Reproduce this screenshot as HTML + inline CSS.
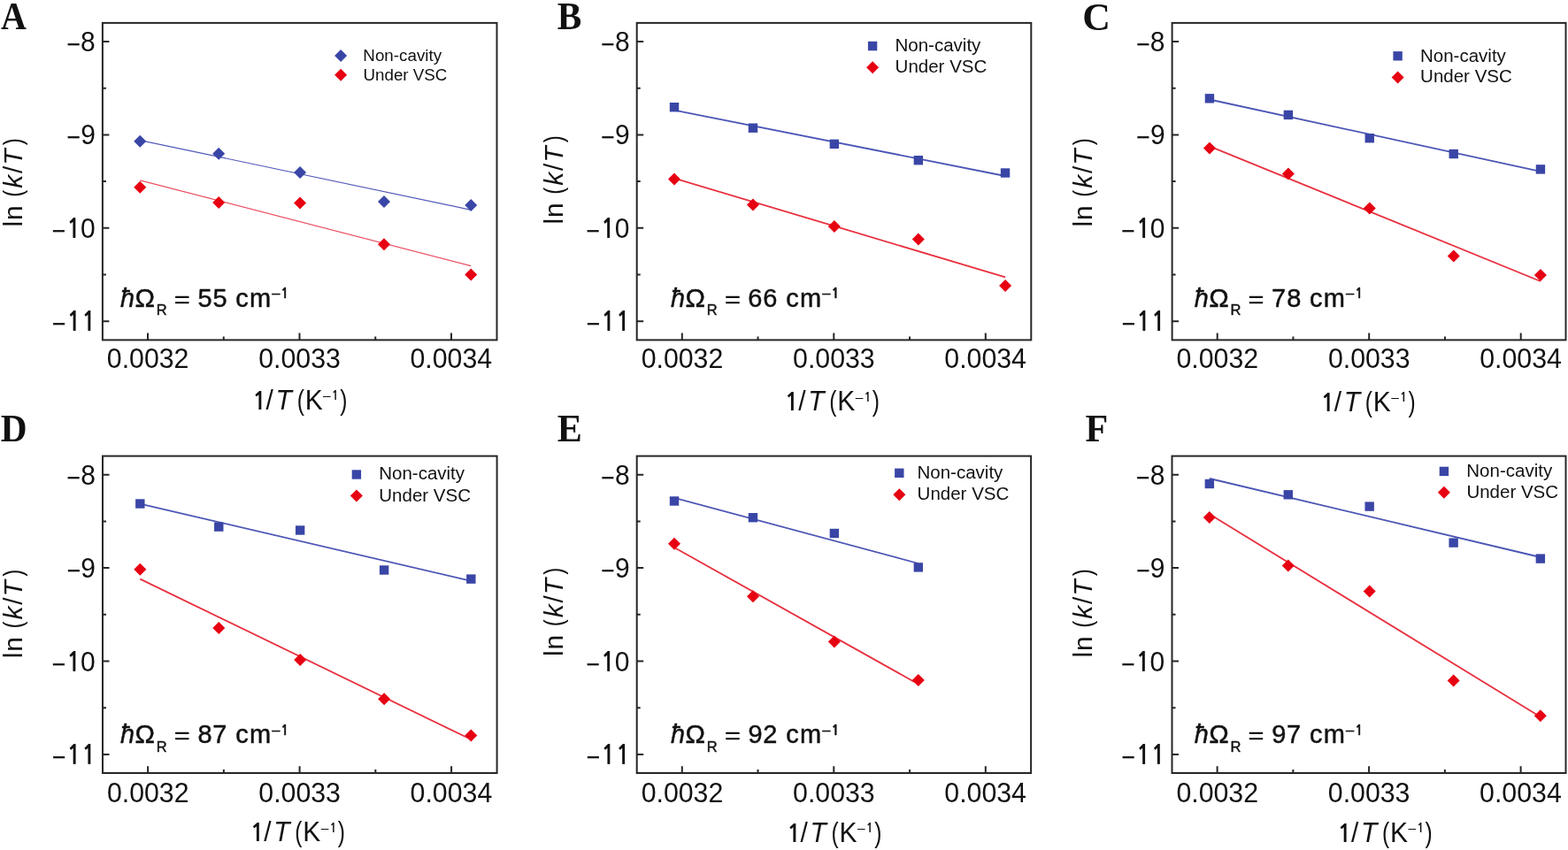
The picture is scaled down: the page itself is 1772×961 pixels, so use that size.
<!DOCTYPE html>
<html><head><meta charset="utf-8"><title>ln(k/T) vs 1/T</title>
<style>html,body{margin:0;padding:0;background:#fff;}body{width:1772px;height:961px;overflow:hidden;}svg{display:block;}</style>
</head><body>
<svg width="1772" height="961" viewBox="0 0 1772 961">
<rect width="1772" height="961" fill="#fff"/>
<g stroke="#262626" stroke-width="2" fill="none">
<rect x="115.9" y="25.9" width="445.6" height="358.5"/>
<path d="M115.9 47h7.5M115.9 152.4h7.5M115.9 257.8h7.5M115.9 363.2h7.5M115.9 99.7h4M115.9 205.1h4M115.9 310.5h4M167 384.4v-7.8M338.5 384.4v-7.8M510 384.4v-7.8M252.75 384.4v-4M424.25 384.4v-4"/>
</g>
<g fill="#111">
<text transform="translate(75.2 60.77) scale(0.9 1.06)" font-family="'Liberation Sans', Arial, Helvetica, sans-serif" font-size="30">−</text><text transform="translate(0 57.7) scale(1 1.06)" font-family="'Liberation Sans', Arial, Helvetica, sans-serif" font-size="30"><tspan x="91.12" y="0">8</tspan></text>
<text transform="translate(75.32 166.17) scale(0.9 1.06)" font-family="'Liberation Sans', Arial, Helvetica, sans-serif" font-size="30">−</text><text transform="translate(0 163.1) scale(1 1.06)" font-family="'Liberation Sans', Arial, Helvetica, sans-serif" font-size="30"><tspan x="91.24" y="0">9</tspan></text>
<text transform="translate(58.39 271.57) scale(0.9 1.06)" font-family="'Liberation Sans', Arial, Helvetica, sans-serif" font-size="30">−</text><text transform="translate(0 268.5) scale(1 1.06)" font-family="'Liberation Sans', Arial, Helvetica, sans-serif" font-size="30"><tspan x="74.98" y="0" font-family="NanumGothic, 'Liberation Sans', sans-serif" font-weight="bold" font-size="27.27">1</tspan><tspan x="90.99" y="0">0</tspan></text>
<text transform="translate(58.68 376.97) scale(0.9 1.06)" font-family="'Liberation Sans', Arial, Helvetica, sans-serif" font-size="30">−</text><text transform="translate(0 373.9) scale(1 1.06)" font-family="'Liberation Sans', Arial, Helvetica, sans-serif" font-size="30"><tspan x="75.27" y="0" font-family="NanumGothic, 'Liberation Sans', sans-serif" font-weight="bold" font-size="27.27">1</tspan><tspan x="91.96" y="0" font-family="NanumGothic, 'Liberation Sans', sans-serif" font-weight="bold" font-size="27.27">1</tspan></text>
<text transform="translate(120.83 415.7) scale(1 1.05)" font-family="'Liberation Sans', Arial, Helvetica, sans-serif" font-size="30.3">0.0032</text>
<text transform="translate(292.24 415.7) scale(1 1.05)" font-family="'Liberation Sans', Arial, Helvetica, sans-serif" font-size="30.3">0.0033</text>
<text transform="translate(463.51 415.7) scale(1 1.05)" font-family="'Liberation Sans', Arial, Helvetica, sans-serif" font-size="30.3">0.0034</text>
<text transform="translate(1.01 33.3) scale(0.93 1.04)" font-family="'Liberation Serif', 'Times New Roman', serif" font-size="43" font-weight="bold">A</text>
<g transform="translate(24.6 254.6) rotate(-90)"><text x="-2.02" y="0" font-family="'Liberation Sans', Arial, Helvetica, sans-serif" font-size="30">l</text><text x="5.61" y="0" font-family="'Liberation Sans', Arial, Helvetica, sans-serif" font-size="30">n</text><text transform="translate(31.81 0) scale(0.8 1)" font-family="'Liberation Sans', Arial, Helvetica, sans-serif" font-size="30">(</text><text x="41.9" y="0" font-family="'Liberation Sans', Arial, Helvetica, sans-serif" font-size="30" font-style="italic">k</text><text x="58.5" y="0" font-family="'Liberation Sans', Arial, Helvetica, sans-serif" font-size="30">/</text><text x="67.8" y="0" font-family="'Liberation Sans', Arial, Helvetica, sans-serif" font-size="30" font-style="italic">T</text><text transform="translate(90.46 0) scale(0.8 1)" font-family="'Liberation Sans', Arial, Helvetica, sans-serif" font-size="30">)</text></g>
<text transform="translate(284.99 462.6) scale(1 1.05)" font-family="NanumGothic, 'Liberation Sans', sans-serif" font-size="27.3" font-weight="bold">1</text>
<text transform="translate(300.6 462.6) scale(1 1.05)" font-family="'Liberation Sans', Arial, Helvetica, sans-serif" font-size="30">/</text>
<text transform="translate(311.6 462.6) scale(1 1.05)" font-family="'Liberation Sans', Arial, Helvetica, sans-serif" font-size="30" font-style="italic">T</text>
<text transform="translate(335.67 462.6) scale(0.82 1.05)" font-family="'Liberation Sans', Arial, Helvetica, sans-serif" font-size="30">(</text>
<text transform="translate(344.64 462.6) scale(1 1.05)" font-family="'Liberation Sans', Arial, Helvetica, sans-serif" font-size="30">K</text>
<text x="365.1" y="452.3" font-family="'Liberation Sans', Arial, Helvetica, sans-serif" font-size="15.5">–</text>
<text x="374.58" y="452.3" font-family="NanumGothic, 'Liberation Sans', sans-serif" font-size="14.2" font-weight="bold">1</text>
<text transform="translate(384.26 462.6) scale(0.82 1.05)" font-family="'Liberation Sans', Arial, Helvetica, sans-serif" font-size="30">)</text>
<text x="410.36" y="69" font-family="'Liberation Sans', Arial, Helvetica, sans-serif" font-size="18.8">Non-cavity</text>
<text x="410.45" y="90.6" font-family="'Liberation Sans', Arial, Helvetica, sans-serif" font-size="18.8">Under VSC</text>
<g stroke="#111" stroke-width="0.45" stroke-linejoin="round">
<text x="136.02" y="346.5" font-family="'Liberation Sans', Arial, Helvetica, sans-serif" font-size="29" font-style="italic">ħ</text>
<text transform="translate(152.42 346.5) scale(1.04 1)" font-family="'Liberation Sans', Arial, Helvetica, sans-serif" font-size="29">Ω</text>
<text x="176.65" y="355.9" font-family="'Liberation Sans', Arial, Helvetica, sans-serif" font-size="16.5">R</text>
<text transform="translate(196.8 346.8) scale(1.06 0.86)" font-family="'Liberation Sans', Arial, Helvetica, sans-serif" font-size="29">=</text>
<text x="223.54" y="346.5" font-family="'Liberation Sans', Arial, Helvetica, sans-serif" font-size="29">5</text>
<text x="240.54" y="346.5" font-family="'Liberation Sans', Arial, Helvetica, sans-serif" font-size="29">5</text>
<text x="266.27" y="346.5" font-family="'Liberation Sans', Arial, Helvetica, sans-serif" font-size="29">c</text>
<text x="281.97" y="346.5" font-family="'Liberation Sans', Arial, Helvetica, sans-serif" font-size="29">m</text>
<text x="307.2" y="336.9" font-family="'Liberation Sans', Arial, Helvetica, sans-serif" font-size="16.5">–</text>
<text x="317.37" y="336.9" font-family="NanumGothic, 'Liberation Sans', sans-serif" font-size="15" font-weight="bold">1</text>
</g>
</g>
<line x1="158.23" y1="158.6" x2="532.24" y2="237.3" stroke="#5058b8" stroke-width="1.2"/>
<line x1="158.23" y1="203.8" x2="532.24" y2="300.7" stroke="#ea5062" stroke-width="1.2"/>
<path d="M158.23 152.7L165.23 159.7L158.23 166.7L151.23 159.7Z" fill="#3a46a6"/>
<path d="M158.23 204.8L165.23 211.8L158.23 218.8L151.23 211.8Z" fill="#e60012"/>
<path d="M247.18 166.7L254.18 173.7L247.18 180.7L240.18 173.7Z" fill="#3a46a6"/>
<path d="M247.18 222.1L254.18 229.1L247.18 236.1L240.18 229.1Z" fill="#e60012"/>
<path d="M339.07 187.9L346.07 194.9L339.07 201.9L332.07 194.9Z" fill="#3a46a6"/>
<path d="M339.07 222.6L346.07 229.6L339.07 236.6L332.07 229.6Z" fill="#e60012"/>
<path d="M434.03 221L441.03 228L434.03 235L427.03 228Z" fill="#3a46a6"/>
<path d="M434.03 269.2L441.03 276.2L434.03 283.2L427.03 276.2Z" fill="#e60012"/>
<path d="M532.24 225L539.24 232L532.24 239L525.24 232Z" fill="#3a46a6"/>
<path d="M532.24 303.4L539.24 310.4L532.24 317.4L525.24 310.4Z" fill="#e60012"/>
<path d="M385.1 56.1L392.1 63.1L385.1 70.1L378.1 63.1Z" fill="#3a46a6"/>
<path d="M385.1 77.8L392.1 84.8L385.1 91.8L378.1 84.8Z" fill="#e60012"/>
<g stroke="#262626" stroke-width="2" fill="none">
<rect x="719.7" y="25.9" width="445.6" height="358.5"/>
<path d="M719.7 47h7.5M719.7 152.4h7.5M719.7 257.8h7.5M719.7 363.2h7.5M719.7 99.7h4M719.7 205.1h4M719.7 310.5h4M770.8 384.4v-7.8M942.3 384.4v-7.8M1113.8 384.4v-7.8M856.55 384.4v-4M1028.05 384.4v-4"/>
</g>
<g fill="#111">
<text transform="translate(679 60.77) scale(0.9 1.06)" font-family="'Liberation Sans', Arial, Helvetica, sans-serif" font-size="30">−</text><text transform="translate(0 57.7) scale(1 1.06)" font-family="'Liberation Sans', Arial, Helvetica, sans-serif" font-size="30"><tspan x="694.92" y="0">8</tspan></text>
<text transform="translate(679.12 166.17) scale(0.9 1.06)" font-family="'Liberation Sans', Arial, Helvetica, sans-serif" font-size="30">−</text><text transform="translate(0 163.1) scale(1 1.06)" font-family="'Liberation Sans', Arial, Helvetica, sans-serif" font-size="30"><tspan x="695.04" y="0">9</tspan></text>
<text transform="translate(662.19 271.57) scale(0.9 1.06)" font-family="'Liberation Sans', Arial, Helvetica, sans-serif" font-size="30">−</text><text transform="translate(0 268.5) scale(1 1.06)" font-family="'Liberation Sans', Arial, Helvetica, sans-serif" font-size="30"><tspan x="678.78" y="0" font-family="NanumGothic, 'Liberation Sans', sans-serif" font-weight="bold" font-size="27.27">1</tspan><tspan x="694.79" y="0">0</tspan></text>
<text transform="translate(662.48 376.97) scale(0.9 1.06)" font-family="'Liberation Sans', Arial, Helvetica, sans-serif" font-size="30">−</text><text transform="translate(0 373.9) scale(1 1.06)" font-family="'Liberation Sans', Arial, Helvetica, sans-serif" font-size="30"><tspan x="679.07" y="0" font-family="NanumGothic, 'Liberation Sans', sans-serif" font-weight="bold" font-size="27.27">1</tspan><tspan x="695.76" y="0" font-family="NanumGothic, 'Liberation Sans', sans-serif" font-weight="bold" font-size="27.27">1</tspan></text>
<text transform="translate(724.63 415.7) scale(1 1.05)" font-family="'Liberation Sans', Arial, Helvetica, sans-serif" font-size="30.3">0.0032</text>
<text transform="translate(896.04 415.7) scale(1 1.05)" font-family="'Liberation Sans', Arial, Helvetica, sans-serif" font-size="30.3">0.0033</text>
<text transform="translate(1067.31 415.7) scale(1 1.05)" font-family="'Liberation Sans', Arial, Helvetica, sans-serif" font-size="30.3">0.0034</text>
<text transform="translate(629.81 33.3) scale(0.96 1.04)" font-family="'Liberation Serif', 'Times New Roman', serif" font-size="43" font-weight="bold">B</text>
<g transform="translate(635.6 251.6) rotate(-90)"><text x="-2.02" y="0" font-family="'Liberation Sans', Arial, Helvetica, sans-serif" font-size="30">l</text><text x="5.61" y="0" font-family="'Liberation Sans', Arial, Helvetica, sans-serif" font-size="30">n</text><text transform="translate(31.81 0) scale(0.8 1)" font-family="'Liberation Sans', Arial, Helvetica, sans-serif" font-size="30">(</text><text x="41.9" y="0" font-family="'Liberation Sans', Arial, Helvetica, sans-serif" font-size="30" font-style="italic">k</text><text x="58.5" y="0" font-family="'Liberation Sans', Arial, Helvetica, sans-serif" font-size="30">/</text><text x="67.8" y="0" font-family="'Liberation Sans', Arial, Helvetica, sans-serif" font-size="30" font-style="italic">T</text><text transform="translate(90.46 0) scale(0.8 1)" font-family="'Liberation Sans', Arial, Helvetica, sans-serif" font-size="30">)</text></g>
<text transform="translate(886.59 464.3) scale(1 1.05)" font-family="NanumGothic, 'Liberation Sans', sans-serif" font-size="27.3" font-weight="bold">1</text>
<text transform="translate(902.2 464.3) scale(1 1.05)" font-family="'Liberation Sans', Arial, Helvetica, sans-serif" font-size="30">/</text>
<text transform="translate(913.2 464.3) scale(1 1.05)" font-family="'Liberation Sans', Arial, Helvetica, sans-serif" font-size="30" font-style="italic">T</text>
<text transform="translate(937.27 464.3) scale(0.82 1.05)" font-family="'Liberation Sans', Arial, Helvetica, sans-serif" font-size="30">(</text>
<text transform="translate(946.24 464.3) scale(1 1.05)" font-family="'Liberation Sans', Arial, Helvetica, sans-serif" font-size="30">K</text>
<text x="966.7" y="454" font-family="'Liberation Sans', Arial, Helvetica, sans-serif" font-size="15.5">–</text>
<text x="976.18" y="454" font-family="NanumGothic, 'Liberation Sans', sans-serif" font-size="14.2" font-weight="bold">1</text>
<text transform="translate(985.86 464.3) scale(0.82 1.05)" font-family="'Liberation Sans', Arial, Helvetica, sans-serif" font-size="30">)</text>
<text x="1011.52" y="57.6" font-family="'Liberation Sans', Arial, Helvetica, sans-serif" font-size="20.5">Non-cavity</text>
<text x="1011.62" y="81.9" font-family="'Liberation Sans', Arial, Helvetica, sans-serif" font-size="20.5">Under VSC</text>
<g stroke="#111" stroke-width="0.45" stroke-linejoin="round">
<text x="758.12" y="346.5" font-family="'Liberation Sans', Arial, Helvetica, sans-serif" font-size="29" font-style="italic">ħ</text>
<text transform="translate(774.52 346.5) scale(1.04 1)" font-family="'Liberation Sans', Arial, Helvetica, sans-serif" font-size="29">Ω</text>
<text x="798.75" y="355.9" font-family="'Liberation Sans', Arial, Helvetica, sans-serif" font-size="16.5">R</text>
<text transform="translate(818.9 346.8) scale(1.06 0.86)" font-family="'Liberation Sans', Arial, Helvetica, sans-serif" font-size="29">=</text>
<text x="845.33" y="346.5" font-family="'Liberation Sans', Arial, Helvetica, sans-serif" font-size="29">6</text>
<text x="862.33" y="346.5" font-family="'Liberation Sans', Arial, Helvetica, sans-serif" font-size="29">6</text>
<text x="888.37" y="346.5" font-family="'Liberation Sans', Arial, Helvetica, sans-serif" font-size="29">c</text>
<text x="904.07" y="346.5" font-family="'Liberation Sans', Arial, Helvetica, sans-serif" font-size="29">m</text>
<text x="929.3" y="336.9" font-family="'Liberation Sans', Arial, Helvetica, sans-serif" font-size="16.5">–</text>
<text x="939.47" y="336.9" font-family="NanumGothic, 'Liberation Sans', sans-serif" font-size="15" font-weight="bold">1</text>
</g>
</g>
<line x1="762.03" y1="124.6" x2="1136.04" y2="199" stroke="#4b55b5" stroke-width="1.8"/>
<line x1="762.03" y1="201.5" x2="1136.04" y2="313.4" stroke="#e8303f" stroke-width="1.8"/>
<rect x="756.83" y="116" width="10.4" height="10.4" fill="#3a46a6"/>
<path d="M762.03 195.6L769.03 202.6L762.03 209.6L755.03 202.6Z" fill="#e60012"/>
<rect x="845.78" y="139.5" width="10.4" height="10.4" fill="#3a46a6"/>
<path d="M850.98 224.5L857.98 231.5L850.98 238.5L843.98 231.5Z" fill="#e60012"/>
<rect x="937.67" y="157.6" width="10.4" height="10.4" fill="#3a46a6"/>
<path d="M942.87 249L949.87 256L942.87 263L935.87 256Z" fill="#e60012"/>
<rect x="1032.63" y="176" width="10.4" height="10.4" fill="#3a46a6"/>
<path d="M1037.83 263.5L1044.83 270.5L1037.83 277.5L1030.83 270.5Z" fill="#e60012"/>
<rect x="1130.84" y="190.3" width="10.4" height="10.4" fill="#3a46a6"/>
<path d="M1136.04 316L1143.04 323L1136.04 330L1129.04 323Z" fill="#e60012"/>
<rect x="980.9" y="46.85" width="10.4" height="10.4" fill="#3a46a6"/>
<path d="M986.1 69.3L993.1 76.3L986.1 83.3L979.1 76.3Z" fill="#e60012"/>
<g stroke="#262626" stroke-width="2" fill="none">
<rect x="1324.6" y="25.9" width="444.9" height="358.5"/>
<path d="M1324.6 47h7.5M1324.6 152.4h7.5M1324.6 257.8h7.5M1324.6 363.2h7.5M1324.6 99.7h4M1324.6 205.1h4M1324.6 310.5h4M1375.7 384.4v-7.8M1547.2 384.4v-7.8M1718.7 384.4v-7.8M1461.45 384.4v-4M1632.95 384.4v-4"/>
</g>
<g fill="#111">
<text transform="translate(1283.9 60.77) scale(0.9 1.06)" font-family="'Liberation Sans', Arial, Helvetica, sans-serif" font-size="30">−</text><text transform="translate(0 57.7) scale(1 1.06)" font-family="'Liberation Sans', Arial, Helvetica, sans-serif" font-size="30"><tspan x="1299.82" y="0">8</tspan></text>
<text transform="translate(1284.02 166.17) scale(0.9 1.06)" font-family="'Liberation Sans', Arial, Helvetica, sans-serif" font-size="30">−</text><text transform="translate(0 163.1) scale(1 1.06)" font-family="'Liberation Sans', Arial, Helvetica, sans-serif" font-size="30"><tspan x="1299.94" y="0">9</tspan></text>
<text transform="translate(1267.09 271.57) scale(0.9 1.06)" font-family="'Liberation Sans', Arial, Helvetica, sans-serif" font-size="30">−</text><text transform="translate(0 268.5) scale(1 1.06)" font-family="'Liberation Sans', Arial, Helvetica, sans-serif" font-size="30"><tspan x="1283.68" y="0" font-family="NanumGothic, 'Liberation Sans', sans-serif" font-weight="bold" font-size="27.27">1</tspan><tspan x="1299.69" y="0">0</tspan></text>
<text transform="translate(1267.38 376.97) scale(0.9 1.06)" font-family="'Liberation Sans', Arial, Helvetica, sans-serif" font-size="30">−</text><text transform="translate(0 373.9) scale(1 1.06)" font-family="'Liberation Sans', Arial, Helvetica, sans-serif" font-size="30"><tspan x="1283.97" y="0" font-family="NanumGothic, 'Liberation Sans', sans-serif" font-weight="bold" font-size="27.27">1</tspan><tspan x="1300.66" y="0" font-family="NanumGothic, 'Liberation Sans', sans-serif" font-weight="bold" font-size="27.27">1</tspan></text>
<text transform="translate(1329.53 415.7) scale(1 1.05)" font-family="'Liberation Sans', Arial, Helvetica, sans-serif" font-size="30.3">0.0032</text>
<text transform="translate(1500.94 415.7) scale(1 1.05)" font-family="'Liberation Sans', Arial, Helvetica, sans-serif" font-size="30.3">0.0033</text>
<text transform="translate(1672.21 415.7) scale(1 1.05)" font-family="'Liberation Sans', Arial, Helvetica, sans-serif" font-size="30.3">0.0034</text>
<text transform="translate(1223.36 33.5) scale(1.02 1.04)" font-family="'Liberation Serif', 'Times New Roman', serif" font-size="43" font-weight="bold">C</text>
<g transform="translate(1233.6 254.6) rotate(-90)"><text x="-2.02" y="0" font-family="'Liberation Sans', Arial, Helvetica, sans-serif" font-size="30">l</text><text x="5.61" y="0" font-family="'Liberation Sans', Arial, Helvetica, sans-serif" font-size="30">n</text><text transform="translate(31.81 0) scale(0.8 1)" font-family="'Liberation Sans', Arial, Helvetica, sans-serif" font-size="30">(</text><text x="41.9" y="0" font-family="'Liberation Sans', Arial, Helvetica, sans-serif" font-size="30" font-style="italic">k</text><text x="58.5" y="0" font-family="'Liberation Sans', Arial, Helvetica, sans-serif" font-size="30">/</text><text x="67.8" y="0" font-family="'Liberation Sans', Arial, Helvetica, sans-serif" font-size="30" font-style="italic">T</text><text transform="translate(90.46 0) scale(0.8 1)" font-family="'Liberation Sans', Arial, Helvetica, sans-serif" font-size="30">)</text></g>
<text transform="translate(1492.19 464.5) scale(1 1.05)" font-family="NanumGothic, 'Liberation Sans', sans-serif" font-size="27.3" font-weight="bold">1</text>
<text transform="translate(1507.8 464.5) scale(1 1.05)" font-family="'Liberation Sans', Arial, Helvetica, sans-serif" font-size="30">/</text>
<text transform="translate(1518.8 464.5) scale(1 1.05)" font-family="'Liberation Sans', Arial, Helvetica, sans-serif" font-size="30" font-style="italic">T</text>
<text transform="translate(1542.87 464.5) scale(0.82 1.05)" font-family="'Liberation Sans', Arial, Helvetica, sans-serif" font-size="30">(</text>
<text transform="translate(1551.84 464.5) scale(1 1.05)" font-family="'Liberation Sans', Arial, Helvetica, sans-serif" font-size="30">K</text>
<text x="1572.3" y="454.2" font-family="'Liberation Sans', Arial, Helvetica, sans-serif" font-size="15.5">–</text>
<text x="1581.78" y="454.2" font-family="NanumGothic, 'Liberation Sans', sans-serif" font-size="14.2" font-weight="bold">1</text>
<text transform="translate(1591.46 464.5) scale(0.82 1.05)" font-family="'Liberation Sans', Arial, Helvetica, sans-serif" font-size="30">)</text>
<text x="1605.02" y="69.6" font-family="'Liberation Sans', Arial, Helvetica, sans-serif" font-size="20.5">Non-cavity</text>
<text x="1605.12" y="93.3" font-family="'Liberation Sans', Arial, Helvetica, sans-serif" font-size="20.5">Under VSC</text>
<g stroke="#111" stroke-width="0.45" stroke-linejoin="round">
<text x="1349.82" y="346.5" font-family="'Liberation Sans', Arial, Helvetica, sans-serif" font-size="29" font-style="italic">ħ</text>
<text transform="translate(1366.22 346.5) scale(1.04 1)" font-family="'Liberation Sans', Arial, Helvetica, sans-serif" font-size="29">Ω</text>
<text x="1390.45" y="355.9" font-family="'Liberation Sans', Arial, Helvetica, sans-serif" font-size="16.5">R</text>
<text transform="translate(1410.6 346.8) scale(1.06 0.86)" font-family="'Liberation Sans', Arial, Helvetica, sans-serif" font-size="29">=</text>
<text x="1437.01" y="346.5" font-family="'Liberation Sans', Arial, Helvetica, sans-serif" font-size="29">7</text>
<text x="1454.24" y="346.5" font-family="'Liberation Sans', Arial, Helvetica, sans-serif" font-size="29">8</text>
<text x="1480.07" y="346.5" font-family="'Liberation Sans', Arial, Helvetica, sans-serif" font-size="29">c</text>
<text x="1495.77" y="346.5" font-family="'Liberation Sans', Arial, Helvetica, sans-serif" font-size="29">m</text>
<text x="1521" y="336.9" font-family="'Liberation Sans', Arial, Helvetica, sans-serif" font-size="16.5">–</text>
<text x="1531.17" y="336.9" font-family="NanumGothic, 'Liberation Sans', sans-serif" font-size="15" font-weight="bold">1</text>
</g>
</g>
<line x1="1366.93" y1="112.5" x2="1740.94" y2="193.8" stroke="#4b55b5" stroke-width="1.8"/>
<line x1="1366.93" y1="165.3" x2="1740.94" y2="318" stroke="#e8303f" stroke-width="1.8"/>
<rect x="1361.73" y="106.1" width="10.4" height="10.4" fill="#3a46a6"/>
<path d="M1366.93 160.6L1373.93 167.6L1366.93 174.6L1359.93 167.6Z" fill="#e60012"/>
<rect x="1450.68" y="124.7" width="10.4" height="10.4" fill="#3a46a6"/>
<path d="M1455.88 189.5L1462.88 196.5L1455.88 203.5L1448.88 196.5Z" fill="#e60012"/>
<rect x="1542.57" y="151" width="10.4" height="10.4" fill="#3a46a6"/>
<path d="M1547.77 228.5L1554.77 235.5L1547.77 242.5L1540.77 235.5Z" fill="#e60012"/>
<rect x="1637.53" y="168.8" width="10.4" height="10.4" fill="#3a46a6"/>
<path d="M1642.73 282.5L1649.73 289.5L1642.73 296.5L1635.73 289.5Z" fill="#e60012"/>
<rect x="1735.74" y="186.2" width="10.4" height="10.4" fill="#3a46a6"/>
<path d="M1740.94 304L1747.94 311L1740.94 318L1733.94 311Z" fill="#e60012"/>
<rect x="1574.4" y="58.1" width="10.4" height="10.4" fill="#3a46a6"/>
<path d="M1579.6 80.5L1586.6 87.5L1579.6 94.5L1572.6 87.5Z" fill="#e60012"/>
<g stroke="#262626" stroke-width="2" fill="none">
<rect x="116" y="515.6" width="445.6" height="358.4"/>
<path d="M116 536.7h7.5M116 642.1h7.5M116 747.5h7.5M116 852.9h7.5M116 589.4h4M116 694.8h4M116 800.2h4M167.1 874v-7.8M338.6 874v-7.8M510.1 874v-7.8M252.85 874v-4M424.35 874v-4"/>
</g>
<g fill="#111">
<text transform="translate(75.3 550.97) scale(0.9 1.06)" font-family="'Liberation Sans', Arial, Helvetica, sans-serif" font-size="30">−</text><text transform="translate(0 547.9) scale(1 1.06)" font-family="'Liberation Sans', Arial, Helvetica, sans-serif" font-size="30"><tspan x="91.22" y="0">8</tspan></text>
<text transform="translate(75.42 656.37) scale(0.9 1.06)" font-family="'Liberation Sans', Arial, Helvetica, sans-serif" font-size="30">−</text><text transform="translate(0 653.3) scale(1 1.06)" font-family="'Liberation Sans', Arial, Helvetica, sans-serif" font-size="30"><tspan x="91.34" y="0">9</tspan></text>
<text transform="translate(58.49 761.77) scale(0.9 1.06)" font-family="'Liberation Sans', Arial, Helvetica, sans-serif" font-size="30">−</text><text transform="translate(0 758.7) scale(1 1.06)" font-family="'Liberation Sans', Arial, Helvetica, sans-serif" font-size="30"><tspan x="75.08" y="0" font-family="NanumGothic, 'Liberation Sans', sans-serif" font-weight="bold" font-size="27.27">1</tspan><tspan x="91.09" y="0">0</tspan></text>
<text transform="translate(58.78 867.17) scale(0.9 1.06)" font-family="'Liberation Sans', Arial, Helvetica, sans-serif" font-size="30">−</text><text transform="translate(0 864.1) scale(1 1.06)" font-family="'Liberation Sans', Arial, Helvetica, sans-serif" font-size="30"><tspan x="75.37" y="0" font-family="NanumGothic, 'Liberation Sans', sans-serif" font-weight="bold" font-size="27.27">1</tspan><tspan x="92.06" y="0" font-family="NanumGothic, 'Liberation Sans', sans-serif" font-weight="bold" font-size="27.27">1</tspan></text>
<text transform="translate(120.93 907.2) scale(1 1.05)" font-family="'Liberation Sans', Arial, Helvetica, sans-serif" font-size="30.3">0.0032</text>
<text transform="translate(292.34 907.2) scale(1 1.05)" font-family="'Liberation Sans', Arial, Helvetica, sans-serif" font-size="30.3">0.0033</text>
<text transform="translate(463.61 907.2) scale(1 1.05)" font-family="'Liberation Sans', Arial, Helvetica, sans-serif" font-size="30.3">0.0034</text>
<text transform="translate(0.67 499.2) scale(0.96 1.04)" font-family="'Liberation Serif', 'Times New Roman', serif" font-size="43" font-weight="bold">D</text>
<g transform="translate(24.6 742.3) rotate(-90)"><text x="-2.02" y="0" font-family="'Liberation Sans', Arial, Helvetica, sans-serif" font-size="30">l</text><text x="5.61" y="0" font-family="'Liberation Sans', Arial, Helvetica, sans-serif" font-size="30">n</text><text transform="translate(31.81 0) scale(0.8 1)" font-family="'Liberation Sans', Arial, Helvetica, sans-serif" font-size="30">(</text><text x="41.9" y="0" font-family="'Liberation Sans', Arial, Helvetica, sans-serif" font-size="30" font-style="italic">k</text><text x="58.5" y="0" font-family="'Liberation Sans', Arial, Helvetica, sans-serif" font-size="30">/</text><text x="67.8" y="0" font-family="'Liberation Sans', Arial, Helvetica, sans-serif" font-size="30" font-style="italic">T</text><text transform="translate(90.46 0) scale(0.8 1)" font-family="'Liberation Sans', Arial, Helvetica, sans-serif" font-size="30">)</text></g>
<text transform="translate(282.59 951.3) scale(1 1.05)" font-family="NanumGothic, 'Liberation Sans', sans-serif" font-size="27.3" font-weight="bold">1</text>
<text transform="translate(298.2 951.3) scale(1 1.05)" font-family="'Liberation Sans', Arial, Helvetica, sans-serif" font-size="30">/</text>
<text transform="translate(309.2 951.3) scale(1 1.05)" font-family="'Liberation Sans', Arial, Helvetica, sans-serif" font-size="30" font-style="italic">T</text>
<text transform="translate(333.27 951.3) scale(0.82 1.05)" font-family="'Liberation Sans', Arial, Helvetica, sans-serif" font-size="30">(</text>
<text transform="translate(342.24 951.3) scale(1 1.05)" font-family="'Liberation Sans', Arial, Helvetica, sans-serif" font-size="30">K</text>
<text x="362.7" y="941" font-family="'Liberation Sans', Arial, Helvetica, sans-serif" font-size="15.5">–</text>
<text x="372.18" y="941" font-family="NanumGothic, 'Liberation Sans', sans-serif" font-size="14.2" font-weight="bold">1</text>
<text transform="translate(381.86 951.3) scale(0.82 1.05)" font-family="'Liberation Sans', Arial, Helvetica, sans-serif" font-size="30">)</text>
<text x="428.22" y="542.3" font-family="'Liberation Sans', Arial, Helvetica, sans-serif" font-size="20.5">Non-cavity</text>
<text x="428.32" y="566.5" font-family="'Liberation Sans', Arial, Helvetica, sans-serif" font-size="20.5">Under VSC</text>
<g stroke="#111" stroke-width="0.45" stroke-linejoin="round">
<text x="136.02" y="840.1" font-family="'Liberation Sans', Arial, Helvetica, sans-serif" font-size="29" font-style="italic">ħ</text>
<text transform="translate(152.42 840.1) scale(1.04 1)" font-family="'Liberation Sans', Arial, Helvetica, sans-serif" font-size="29">Ω</text>
<text x="176.65" y="849.5" font-family="'Liberation Sans', Arial, Helvetica, sans-serif" font-size="16.5">R</text>
<text transform="translate(196.8 840.4) scale(1.06 0.86)" font-family="'Liberation Sans', Arial, Helvetica, sans-serif" font-size="29">=</text>
<text x="223.44" y="840.1" font-family="'Liberation Sans', Arial, Helvetica, sans-serif" font-size="29">8</text>
<text x="240.21" y="840.1" font-family="'Liberation Sans', Arial, Helvetica, sans-serif" font-size="29">7</text>
<text x="266.27" y="840.1" font-family="'Liberation Sans', Arial, Helvetica, sans-serif" font-size="29">c</text>
<text x="281.97" y="840.1" font-family="'Liberation Sans', Arial, Helvetica, sans-serif" font-size="29">m</text>
<text x="307.2" y="830.5" font-family="'Liberation Sans', Arial, Helvetica, sans-serif" font-size="16.5">–</text>
<text x="317.37" y="830.5" font-family="NanumGothic, 'Liberation Sans', sans-serif" font-size="15" font-weight="bold">1</text>
</g>
</g>
<line x1="158.33" y1="569.6" x2="532.34" y2="656.8" stroke="#4b55b5" stroke-width="1.8"/>
<line x1="158.33" y1="654.6" x2="532.34" y2="836" stroke="#e8303f" stroke-width="1.8"/>
<rect x="153.13" y="564.3" width="10.4" height="10.4" fill="#3a46a6"/>
<path d="M158.33 636.7L165.33 643.7L158.33 650.7L151.33 643.7Z" fill="#e60012"/>
<rect x="242.08" y="590.4" width="10.4" height="10.4" fill="#3a46a6"/>
<path d="M247.28 703L254.28 710L247.28 717L240.28 710Z" fill="#e60012"/>
<rect x="333.97" y="594.3" width="10.4" height="10.4" fill="#3a46a6"/>
<path d="M339.17 739L346.17 746L339.17 753L332.17 746Z" fill="#e60012"/>
<rect x="428.93" y="639.3" width="10.4" height="10.4" fill="#3a46a6"/>
<path d="M434.13 783.3L441.13 790.3L434.13 797.3L427.13 790.3Z" fill="#e60012"/>
<rect x="527.14" y="649.4" width="10.4" height="10.4" fill="#3a46a6"/>
<path d="M532.34 824.4L539.34 831.4L532.34 838.4L525.34 831.4Z" fill="#e60012"/>
<rect x="397.7" y="531.3" width="10.4" height="10.4" fill="#3a46a6"/>
<path d="M402.9 553.5L409.9 560.5L402.9 567.5L395.9 560.5Z" fill="#e60012"/>
<g stroke="#262626" stroke-width="2" fill="none">
<rect x="719.7" y="515.6" width="445.4" height="358.4"/>
<path d="M719.7 536.7h7.5M719.7 642.1h7.5M719.7 747.5h7.5M719.7 852.9h7.5M719.7 589.4h4M719.7 694.8h4M719.7 800.2h4M770.8 874v-7.8M942.3 874v-7.8M1113.8 874v-7.8M856.55 874v-4M1028.05 874v-4"/>
</g>
<g fill="#111">
<text transform="translate(679 550.97) scale(0.9 1.06)" font-family="'Liberation Sans', Arial, Helvetica, sans-serif" font-size="30">−</text><text transform="translate(0 547.9) scale(1 1.06)" font-family="'Liberation Sans', Arial, Helvetica, sans-serif" font-size="30"><tspan x="694.92" y="0">8</tspan></text>
<text transform="translate(679.12 656.37) scale(0.9 1.06)" font-family="'Liberation Sans', Arial, Helvetica, sans-serif" font-size="30">−</text><text transform="translate(0 653.3) scale(1 1.06)" font-family="'Liberation Sans', Arial, Helvetica, sans-serif" font-size="30"><tspan x="695.04" y="0">9</tspan></text>
<text transform="translate(662.19 761.77) scale(0.9 1.06)" font-family="'Liberation Sans', Arial, Helvetica, sans-serif" font-size="30">−</text><text transform="translate(0 758.7) scale(1 1.06)" font-family="'Liberation Sans', Arial, Helvetica, sans-serif" font-size="30"><tspan x="678.78" y="0" font-family="NanumGothic, 'Liberation Sans', sans-serif" font-weight="bold" font-size="27.27">1</tspan><tspan x="694.79" y="0">0</tspan></text>
<text transform="translate(662.48 867.17) scale(0.9 1.06)" font-family="'Liberation Sans', Arial, Helvetica, sans-serif" font-size="30">−</text><text transform="translate(0 864.1) scale(1 1.06)" font-family="'Liberation Sans', Arial, Helvetica, sans-serif" font-size="30"><tspan x="679.07" y="0" font-family="NanumGothic, 'Liberation Sans', sans-serif" font-weight="bold" font-size="27.27">1</tspan><tspan x="695.76" y="0" font-family="NanumGothic, 'Liberation Sans', sans-serif" font-weight="bold" font-size="27.27">1</tspan></text>
<text transform="translate(724.63 907.2) scale(1 1.05)" font-family="'Liberation Sans', Arial, Helvetica, sans-serif" font-size="30.3">0.0032</text>
<text transform="translate(896.04 907.2) scale(1 1.05)" font-family="'Liberation Sans', Arial, Helvetica, sans-serif" font-size="30.3">0.0033</text>
<text transform="translate(1067.31 907.2) scale(1 1.05)" font-family="'Liberation Sans', Arial, Helvetica, sans-serif" font-size="30.3">0.0034</text>
<text transform="translate(629.78 499.2) scale(0.98 1.04)" font-family="'Liberation Serif', 'Times New Roman', serif" font-size="43" font-weight="bold">E</text>
<g transform="translate(635.6 740.1) rotate(-90)"><text x="-2.02" y="0" font-family="'Liberation Sans', Arial, Helvetica, sans-serif" font-size="30">l</text><text x="5.61" y="0" font-family="'Liberation Sans', Arial, Helvetica, sans-serif" font-size="30">n</text><text transform="translate(31.81 0) scale(0.8 1)" font-family="'Liberation Sans', Arial, Helvetica, sans-serif" font-size="30">(</text><text x="41.9" y="0" font-family="'Liberation Sans', Arial, Helvetica, sans-serif" font-size="30" font-style="italic">k</text><text x="58.5" y="0" font-family="'Liberation Sans', Arial, Helvetica, sans-serif" font-size="30">/</text><text x="67.8" y="0" font-family="'Liberation Sans', Arial, Helvetica, sans-serif" font-size="30" font-style="italic">T</text><text transform="translate(90.46 0) scale(0.8 1)" font-family="'Liberation Sans', Arial, Helvetica, sans-serif" font-size="30">)</text></g>
<text transform="translate(888.89 951.5) scale(1 1.05)" font-family="NanumGothic, 'Liberation Sans', sans-serif" font-size="27.3" font-weight="bold">1</text>
<text transform="translate(904.5 951.5) scale(1 1.05)" font-family="'Liberation Sans', Arial, Helvetica, sans-serif" font-size="30">/</text>
<text transform="translate(915.5 951.5) scale(1 1.05)" font-family="'Liberation Sans', Arial, Helvetica, sans-serif" font-size="30" font-style="italic">T</text>
<text transform="translate(939.57 951.5) scale(0.82 1.05)" font-family="'Liberation Sans', Arial, Helvetica, sans-serif" font-size="30">(</text>
<text transform="translate(948.54 951.5) scale(1 1.05)" font-family="'Liberation Sans', Arial, Helvetica, sans-serif" font-size="30">K</text>
<text x="969" y="941.2" font-family="'Liberation Sans', Arial, Helvetica, sans-serif" font-size="15.5">–</text>
<text x="978.48" y="941.2" font-family="NanumGothic, 'Liberation Sans', sans-serif" font-size="14.2" font-weight="bold">1</text>
<text transform="translate(988.16 951.5) scale(0.82 1.05)" font-family="'Liberation Sans', Arial, Helvetica, sans-serif" font-size="30">)</text>
<text x="1036.52" y="540.6" font-family="'Liberation Sans', Arial, Helvetica, sans-serif" font-size="20.5">Non-cavity</text>
<text x="1036.62" y="564.9" font-family="'Liberation Sans', Arial, Helvetica, sans-serif" font-size="20.5">Under VSC</text>
<g stroke="#111" stroke-width="0.45" stroke-linejoin="round">
<text x="758.12" y="840.1" font-family="'Liberation Sans', Arial, Helvetica, sans-serif" font-size="29" font-style="italic">ħ</text>
<text transform="translate(774.52 840.1) scale(1.04 1)" font-family="'Liberation Sans', Arial, Helvetica, sans-serif" font-size="29">Ω</text>
<text x="798.75" y="849.5" font-family="'Liberation Sans', Arial, Helvetica, sans-serif" font-size="16.5">R</text>
<text transform="translate(818.9 840.4) scale(1.06 0.86)" font-family="'Liberation Sans', Arial, Helvetica, sans-serif" font-size="29">=</text>
<text x="845.44" y="840.1" font-family="'Liberation Sans', Arial, Helvetica, sans-serif" font-size="29">9</text>
<text x="862.34" y="840.1" font-family="'Liberation Sans', Arial, Helvetica, sans-serif" font-size="29">2</text>
<text x="888.37" y="840.1" font-family="'Liberation Sans', Arial, Helvetica, sans-serif" font-size="29">c</text>
<text x="904.07" y="840.1" font-family="'Liberation Sans', Arial, Helvetica, sans-serif" font-size="29">m</text>
<text x="929.3" y="830.5" font-family="'Liberation Sans', Arial, Helvetica, sans-serif" font-size="16.5">–</text>
<text x="939.47" y="830.5" font-family="NanumGothic, 'Liberation Sans', sans-serif" font-size="15" font-weight="bold">1</text>
</g>
</g>
<line x1="762.03" y1="562.8" x2="1037.83" y2="637" stroke="#4b55b5" stroke-width="1.8"/>
<line x1="762.03" y1="619" x2="1037.83" y2="773.5" stroke="#e8303f" stroke-width="1.8"/>
<rect x="756.83" y="561.3" width="10.4" height="10.4" fill="#3a46a6"/>
<path d="M762.03 607.7L769.03 614.7L762.03 621.7L755.03 614.7Z" fill="#e60012"/>
<rect x="845.78" y="580" width="10.4" height="10.4" fill="#3a46a6"/>
<path d="M850.98 667.3L857.98 674.3L850.98 681.3L843.98 674.3Z" fill="#e60012"/>
<rect x="937.67" y="597.8" width="10.4" height="10.4" fill="#3a46a6"/>
<path d="M942.87 718.4L949.87 725.4L942.87 732.4L935.87 725.4Z" fill="#e60012"/>
<rect x="1032.63" y="636.2" width="10.4" height="10.4" fill="#3a46a6"/>
<path d="M1037.83 762.1L1044.83 769.1L1037.83 776.1L1030.83 769.1Z" fill="#e60012"/>
<rect x="1011.1" y="529.6" width="10.4" height="10.4" fill="#3a46a6"/>
<path d="M1016.3 552.3L1023.3 559.3L1016.3 566.3L1009.3 559.3Z" fill="#e60012"/>
<g stroke="#262626" stroke-width="2" fill="none">
<rect x="1324.5" y="515.6" width="445" height="358.4"/>
<path d="M1324.5 536.7h7.5M1324.5 642.1h7.5M1324.5 747.5h7.5M1324.5 852.9h7.5M1324.5 589.4h4M1324.5 694.8h4M1324.5 800.2h4M1375.6 874v-7.8M1547.1 874v-7.8M1718.6 874v-7.8M1461.35 874v-4M1632.85 874v-4"/>
</g>
<g fill="#111">
<text transform="translate(1283.8 550.97) scale(0.9 1.06)" font-family="'Liberation Sans', Arial, Helvetica, sans-serif" font-size="30">−</text><text transform="translate(0 547.9) scale(1 1.06)" font-family="'Liberation Sans', Arial, Helvetica, sans-serif" font-size="30"><tspan x="1299.72" y="0">8</tspan></text>
<text transform="translate(1283.92 656.37) scale(0.9 1.06)" font-family="'Liberation Sans', Arial, Helvetica, sans-serif" font-size="30">−</text><text transform="translate(0 653.3) scale(1 1.06)" font-family="'Liberation Sans', Arial, Helvetica, sans-serif" font-size="30"><tspan x="1299.84" y="0">9</tspan></text>
<text transform="translate(1266.99 761.77) scale(0.9 1.06)" font-family="'Liberation Sans', Arial, Helvetica, sans-serif" font-size="30">−</text><text transform="translate(0 758.7) scale(1 1.06)" font-family="'Liberation Sans', Arial, Helvetica, sans-serif" font-size="30"><tspan x="1283.58" y="0" font-family="NanumGothic, 'Liberation Sans', sans-serif" font-weight="bold" font-size="27.27">1</tspan><tspan x="1299.59" y="0">0</tspan></text>
<text transform="translate(1267.28 867.17) scale(0.9 1.06)" font-family="'Liberation Sans', Arial, Helvetica, sans-serif" font-size="30">−</text><text transform="translate(0 864.1) scale(1 1.06)" font-family="'Liberation Sans', Arial, Helvetica, sans-serif" font-size="30"><tspan x="1283.87" y="0" font-family="NanumGothic, 'Liberation Sans', sans-serif" font-weight="bold" font-size="27.27">1</tspan><tspan x="1300.56" y="0" font-family="NanumGothic, 'Liberation Sans', sans-serif" font-weight="bold" font-size="27.27">1</tspan></text>
<text transform="translate(1329.43 907.2) scale(1 1.05)" font-family="'Liberation Sans', Arial, Helvetica, sans-serif" font-size="30.3">0.0032</text>
<text transform="translate(1500.84 907.2) scale(1 1.05)" font-family="'Liberation Sans', Arial, Helvetica, sans-serif" font-size="30.3">0.0033</text>
<text transform="translate(1672.11 907.2) scale(1 1.05)" font-family="'Liberation Sans', Arial, Helvetica, sans-serif" font-size="30.3">0.0034</text>
<text transform="translate(1226.48 499.2) scale(0.98 1.04)" font-family="'Liberation Serif', 'Times New Roman', serif" font-size="43" font-weight="bold">F</text>
<g transform="translate(1233.6 741.6) rotate(-90)"><text x="-2.02" y="0" font-family="'Liberation Sans', Arial, Helvetica, sans-serif" font-size="30">l</text><text x="5.61" y="0" font-family="'Liberation Sans', Arial, Helvetica, sans-serif" font-size="30">n</text><text transform="translate(31.81 0) scale(0.8 1)" font-family="'Liberation Sans', Arial, Helvetica, sans-serif" font-size="30">(</text><text x="41.9" y="0" font-family="'Liberation Sans', Arial, Helvetica, sans-serif" font-size="30" font-style="italic">k</text><text x="58.5" y="0" font-family="'Liberation Sans', Arial, Helvetica, sans-serif" font-size="30">/</text><text x="67.8" y="0" font-family="'Liberation Sans', Arial, Helvetica, sans-serif" font-size="30" font-style="italic">T</text><text transform="translate(90.46 0) scale(0.8 1)" font-family="'Liberation Sans', Arial, Helvetica, sans-serif" font-size="30">)</text></g>
<text transform="translate(1511.29 951.5) scale(1 1.05)" font-family="NanumGothic, 'Liberation Sans', sans-serif" font-size="27.3" font-weight="bold">1</text>
<text transform="translate(1526.9 951.5) scale(1 1.05)" font-family="'Liberation Sans', Arial, Helvetica, sans-serif" font-size="30">/</text>
<text transform="translate(1537.9 951.5) scale(1 1.05)" font-family="'Liberation Sans', Arial, Helvetica, sans-serif" font-size="30" font-style="italic">T</text>
<text transform="translate(1561.97 951.5) scale(0.82 1.05)" font-family="'Liberation Sans', Arial, Helvetica, sans-serif" font-size="30">(</text>
<text transform="translate(1570.94 951.5) scale(1 1.05)" font-family="'Liberation Sans', Arial, Helvetica, sans-serif" font-size="30">K</text>
<text x="1591.4" y="941.2" font-family="'Liberation Sans', Arial, Helvetica, sans-serif" font-size="15.5">–</text>
<text x="1600.88" y="941.2" font-family="NanumGothic, 'Liberation Sans', sans-serif" font-size="14.2" font-weight="bold">1</text>
<text transform="translate(1610.56 951.5) scale(0.82 1.05)" font-family="'Liberation Sans', Arial, Helvetica, sans-serif" font-size="30">)</text>
<text x="1657.32" y="538.8" font-family="'Liberation Sans', Arial, Helvetica, sans-serif" font-size="20.5">Non-cavity</text>
<text x="1657.42" y="562.7" font-family="'Liberation Sans', Arial, Helvetica, sans-serif" font-size="20.5">Under VSC</text>
<g stroke="#111" stroke-width="0.45" stroke-linejoin="round">
<text x="1349.82" y="840.1" font-family="'Liberation Sans', Arial, Helvetica, sans-serif" font-size="29" font-style="italic">ħ</text>
<text transform="translate(1366.22 840.1) scale(1.04 1)" font-family="'Liberation Sans', Arial, Helvetica, sans-serif" font-size="29">Ω</text>
<text x="1390.45" y="849.5" font-family="'Liberation Sans', Arial, Helvetica, sans-serif" font-size="16.5">R</text>
<text transform="translate(1410.6 840.4) scale(1.06 0.86)" font-family="'Liberation Sans', Arial, Helvetica, sans-serif" font-size="29">=</text>
<text x="1437.14" y="840.1" font-family="'Liberation Sans', Arial, Helvetica, sans-serif" font-size="29">9</text>
<text x="1454.01" y="840.1" font-family="'Liberation Sans', Arial, Helvetica, sans-serif" font-size="29">7</text>
<text x="1480.07" y="840.1" font-family="'Liberation Sans', Arial, Helvetica, sans-serif" font-size="29">c</text>
<text x="1495.77" y="840.1" font-family="'Liberation Sans', Arial, Helvetica, sans-serif" font-size="29">m</text>
<text x="1521" y="830.5" font-family="'Liberation Sans', Arial, Helvetica, sans-serif" font-size="16.5">–</text>
<text x="1531.17" y="830.5" font-family="NanumGothic, 'Liberation Sans', sans-serif" font-size="15" font-weight="bold">1</text>
</g>
</g>
<line x1="1366.83" y1="541" x2="1740.84" y2="630" stroke="#4b55b5" stroke-width="1.8"/>
<line x1="1366.83" y1="581.3" x2="1740.84" y2="810.5" stroke="#e8303f" stroke-width="1.8"/>
<rect x="1361.63" y="541.8" width="10.4" height="10.4" fill="#3a46a6"/>
<path d="M1366.83 578L1373.83 585L1366.83 592L1359.83 585Z" fill="#e60012"/>
<rect x="1450.58" y="554.1" width="10.4" height="10.4" fill="#3a46a6"/>
<path d="M1455.78 632.4L1462.78 639.4L1455.78 646.4L1448.78 639.4Z" fill="#e60012"/>
<rect x="1542.47" y="567.4" width="10.4" height="10.4" fill="#3a46a6"/>
<path d="M1547.67 661.6L1554.67 668.6L1547.67 675.6L1540.67 668.6Z" fill="#e60012"/>
<rect x="1637.43" y="608.4" width="10.4" height="10.4" fill="#3a46a6"/>
<path d="M1642.63 762.5L1649.63 769.5L1642.63 776.5L1635.63 769.5Z" fill="#e60012"/>
<rect x="1735.64" y="626.4" width="10.4" height="10.4" fill="#3a46a6"/>
<path d="M1740.84 802.3L1747.84 809.3L1740.84 816.3L1733.84 809.3Z" fill="#e60012"/>
<rect x="1626.7" y="527.7" width="10.4" height="10.4" fill="#3a46a6"/>
<path d="M1631.9 549.8L1638.9 556.8L1631.9 563.8L1624.9 556.8Z" fill="#e60012"/>
</svg>
</body></html>
